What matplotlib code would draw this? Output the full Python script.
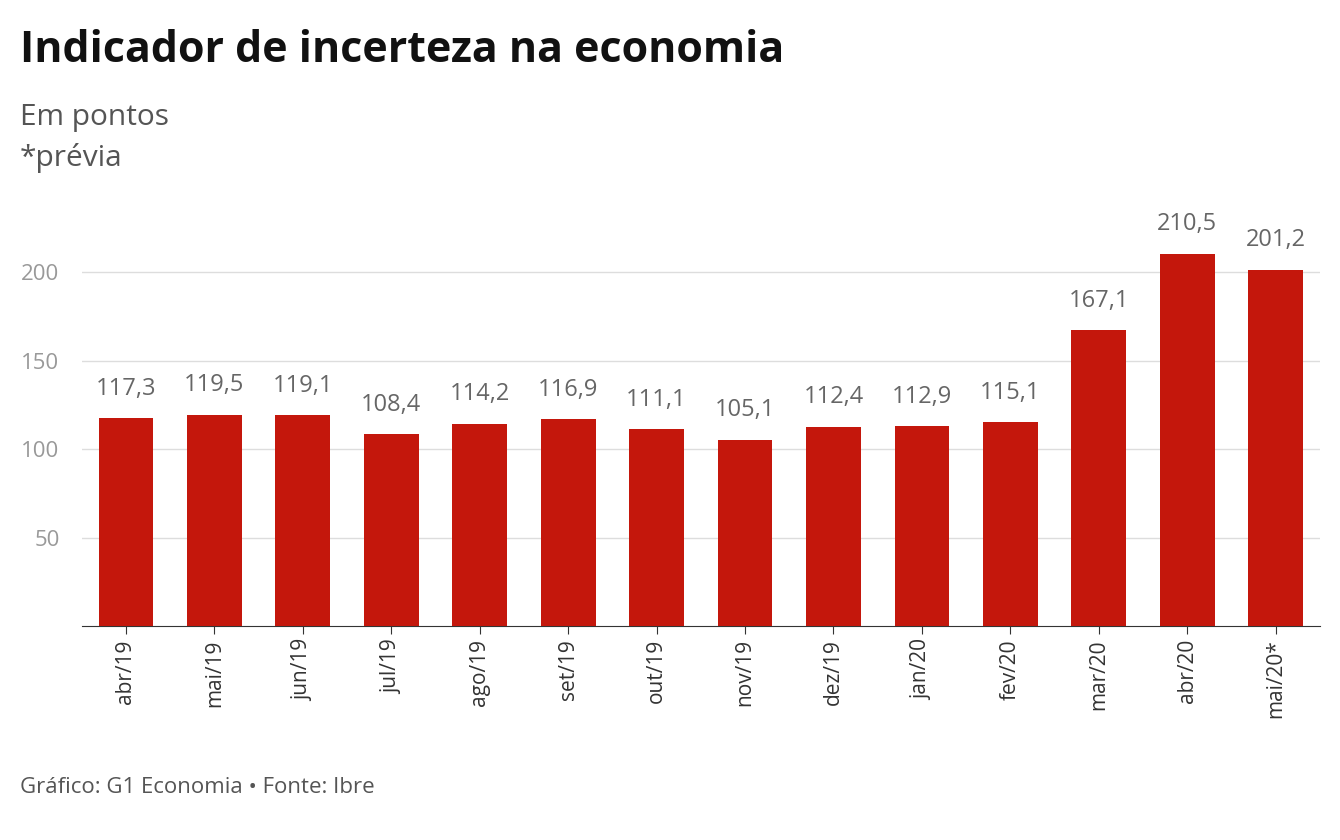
import matplotlib.pyplot as plt

plt.rcParams['font.family'] = ['Open Sans', 'DejaVu Sans']

months = ["abr/19", "mai/19", "jun/19", "jul/19", "ago/19", "set/19", "out/19",
          "nov/19", "dez/19", "jan/20", "fev/20", "mar/20", "abr/20", "mai/20*"]
values = [117.3, 119.5, 119.1, 108.4, 114.2, 116.9, 111.1,
          105.1, 112.4, 112.9, 115.1, 167.1, 210.5, 201.2]
yticks = [50, 100, 150, 200]

fig = plt.figure(figsize=(13.4, 8.4), dpi=100)
ax = fig.add_axes([0.061, 0.2548, 0.924, 0.4738])

x = list(range(len(months)))
ax.bar(x, values, width=0.62, color="#c4170c", zorder=3)
for xi, v in zip(x, values):
    ax.text(xi, v + 10, f"{v:.1f}".replace(".", ","), ha="center", va="bottom",
            fontsize=17, color="#666666")

ax.set_xlim(-0.5, len(months) - 0.5)
ax.set_ylim(0, 225)
ax.set_yticks(yticks)
ax.set_yticklabels([str(t) for t in yticks], fontsize=16, color="#999999")
ax.set_xticks(x)
ax.set_xticklabels(months, rotation=90, fontsize=15, color="#333333")
ax.grid(axis="y", color="#dddddd", linewidth=1, zorder=0)
for s in ["top", "right", "left"]:
    ax.spines[s].set_visible(False)
ax.spines["bottom"].set_color("#333333")
ax.tick_params(axis="y", length=0, pad=16)
ax.tick_params(axis="x", length=6, color="#333333")

fig.text(0.015, 0.94, "Indicador de incerteza na economia", fontsize=31,
         fontweight="bold", color="#111111", va="center")
fig.text(0.015, 0.86, "Em pontos", fontsize=21.5, color="#555555", va="center")
fig.text(0.015, 0.812, "*prévia", fontsize=21.5, color="#555555", va="center")
fig.text(0.015, 0.062, "Gráfico: G1 Economia • Fonte: Ibre", fontsize=16,
         color="#555555", va="center")

fig.savefig("out.png", dpi=100)
